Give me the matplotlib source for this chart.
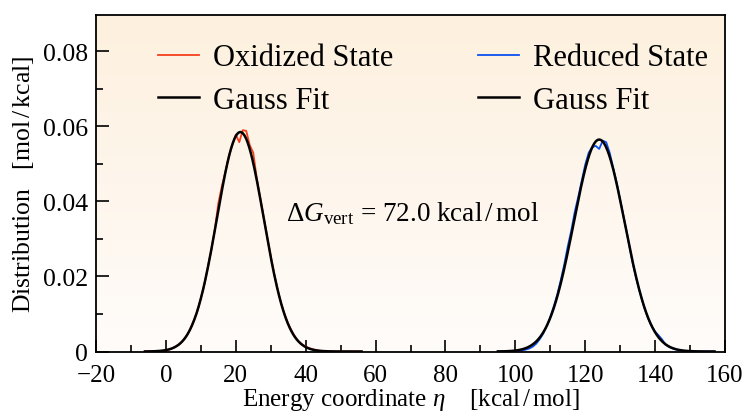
import numpy as np
import matplotlib
matplotlib.use("Agg")
import matplotlib.pyplot as plt
from matplotlib.ticker import MultipleLocator, FuncFormatter
from matplotlib.colors import LinearSegmentedColormap

plt.rcParams['font.family'] = ['Liberation Serif', 'DejaVu Serif']
plt.rcParams['mathtext.fontset'] = 'custom'
plt.rcParams['mathtext.rm'] = 'Liberation Serif'
plt.rcParams['mathtext.it'] = 'Liberation Serif:italic'
plt.rcParams['mathtext.bf'] = 'Liberation Serif:bold'

# ---- data ----
ox_x = list(range(-6, 57))
ox_y = [0.0000, 0.0000, 0.0000,
        0.0001, 0.0001, 0.0002, 0.0003, 0.0005, 0.0009, 0.0014, 0.0020, 0.0030, 0.0042,
        0.0061, 0.0083, 0.0107, 0.0142, 0.0178, 0.0225, 0.0270, 0.0325, 0.0395, 0.0440,
        0.0478, 0.0520, 0.0550, 0.0578, 0.0558, 0.0590, 0.0588, 0.0550, 0.0530, 0.0462,
        0.0410, 0.0358, 0.0305, 0.0255, 0.0207, 0.0165, 0.0128, 0.0099, 0.0074, 0.0055,
        0.0039, 0.0027, 0.0019, 0.0013, 0.0009, 0.0006, 0.0004, 0.0002, 0.0001, 0.0001,
        0.0000, 0.0000, 0.0000, 0.0000, 0.0000, 0.0000, 0.0000, 0.0000, 0.0000, 0.0000]

red_x = list(range(95, 158))
red_y = [0.0000, 0.0000, 0.0000, 0.0000,
         0.0000, 0.0001, 0.0002, 0.0003, 0.0005, 0.0008, 0.0013, 0.0021, 0.0033, 0.0048,
         0.0068, 0.0092, 0.0120, 0.0152, 0.0190, 0.0232, 0.0280, 0.0322, 0.0372, 0.0412,
         0.0455, 0.0498, 0.0530, 0.0545, 0.0548, 0.0540, 0.0562, 0.0558, 0.0530, 0.0490,
         0.0450, 0.0405, 0.0358, 0.0312, 0.0262, 0.0218, 0.0180, 0.0146, 0.0114, 0.0088,
         0.0068, 0.0053, 0.0043, 0.0032, 0.0018, 0.0012, 0.0008, 0.0005, 0.0003, 0.0001,
         0.0000, 0.0000, 0.0000, 0.0000, 0.0000, 0.0000, 0.0000, 0.0000, 0.0000]

# Gauss fit parameters: (mean, sigma, peak height), fit range
ox_fit = (21.3, 6.7, 0.0585)
red_fit = (124.0, 7.3, 0.0565)
ox_range = (-6, 56)
red_range = (95, 157)

dG_text = r'$\Delta G_\mathrm{vert}\, =\, 72.0\ \mathrm{kcal\,/\,mol}$'

def gauss(x, p):
    m, s, a = p
    return a * np.exp(-(x - m) ** 2 / (2 * s ** 2))

fig = plt.figure(figsize=(7.44, 4.14), dpi=100)
ax = fig.add_axes([96/744, 1-352.5/414, (725-96)/744, (352.5-16)/414])

# background gradient
top = np.array([253, 240, 222]) / 255
bot = np.array([255, 252, 250]) / 255
cmap = LinearSegmentedColormap.from_list('bg', [bot, top])
grad = np.linspace(0, 1, 256).reshape(-1, 1)
ax.imshow(grad, aspect='auto', cmap=cmap, origin='lower',
          extent=[-20, 160, 0, 0.0897], zorder=0)

xf1 = np.linspace(*ox_range, 400)
xf2 = np.linspace(*red_range, 400)
l1, = ax.plot(ox_x, ox_y, color='#f5401f', lw=1.3, zorder=2, label='Oxidized State')
f1, = ax.plot(xf1, gauss(xf1, ox_fit), color='black', lw=1.8, zorder=3, label='Gauss Fit')
l2, = ax.plot(red_x, red_y, color='#0a50f0', lw=1.3, zorder=2, label='Reduced State')
f2, = ax.plot(xf2, gauss(xf2, red_fit), color='black', lw=1.8, zorder=3, label='Gauss Fit')

ax.set_xlim(-20, 160)
ax.set_ylim(0, 0.0897)
ax.xaxis.set_major_locator(MultipleLocator(20))
ax.xaxis.set_minor_locator(MultipleLocator(10))
ax.yaxis.set_major_locator(MultipleLocator(0.02))
ax.yaxis.set_minor_locator(MultipleLocator(0.01))
ax.yaxis.set_major_formatter(FuncFormatter(lambda v, p: '0' if abs(v) < 1e-9 else f'{v:.2f}'))
ax.tick_params(which='both', direction='in', top=False, right=False, width=1.2)
ax.tick_params(which='major', length=9)
ax.tick_params(axis='x', which='major', pad=9, labelsize=18)
ax.tick_params(axis='y', which='major', pad=6, labelsize=18.5)
ax.tick_params(which='minor', length=5)
for s in ax.spines.values():
    s.set_linewidth(1.3)

ax.set_xlabel(r'Energy coordinate $\eta$    [kcal$\,$/$\,$mol]', fontsize=18, labelpad=0)
ax.set_ylabel(r'Distribution   [mol$\,$/$\,$kcal]', fontsize=18.5, labelpad=5)

ax.text(34.5, 0.037, dG_text, fontsize=19.5, va='center', ha='left')

leg = ax.legend(handles=[l1, f1, l2, f2], ncol=2, frameon=False, fontsize=22,
                loc='upper left', bbox_to_anchor=(0.079, 0.952), borderaxespad=0,
                handlelength=1.34, handletextpad=0.46, columnspacing=2.78, labelspacing=0.45)

fig.savefig('out.png', dpi=100)
